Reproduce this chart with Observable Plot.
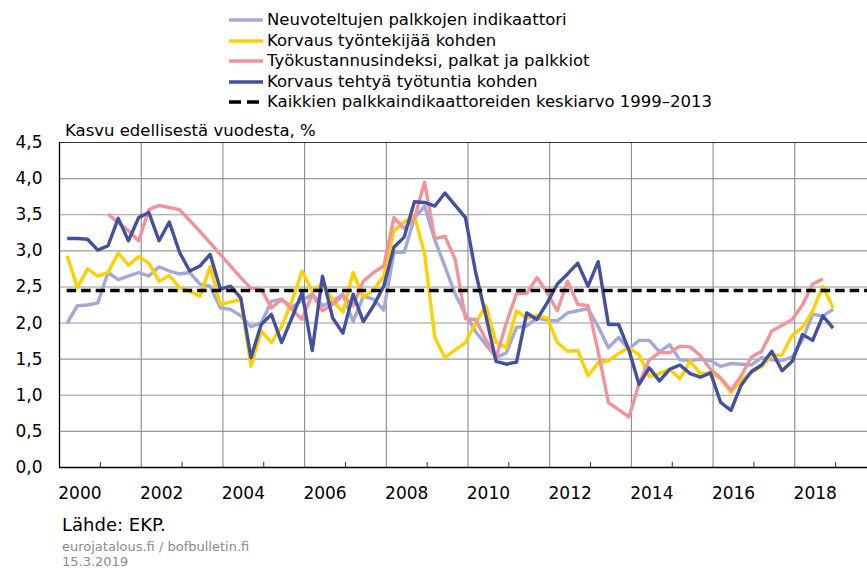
<!DOCTYPE html>
<html>
<head>
<meta charset="utf-8">
<script src="https://cdn.jsdelivr.net/npm/d3@7"></script>
<script src="https://cdn.jsdelivr.net/npm/@observablehq/plot@0.6"></script>
<style>
  html, body { margin: 0; padding: 0; background: #fff; overflow: hidden; }
  body { position: relative; width: 867px; height: 568px; font-family: "DejaVu Sans", sans-serif; color: #000; }
  .abs { position: absolute; white-space: nowrap; }
  #legend .row { position: absolute; left: 229px; width: 520px; height: 20px; line-height: 20px; font-size: 16.5px; white-space: nowrap; }
  #legend svg { position: absolute; left: 0; top: 7px; }
  #legend span { position: absolute; left: 38px; top: 0; white-space: nowrap; }
  #chart { position: absolute; left: 0; top: 112px; }
</style>
</head>
<body>
<div id="legend"></div>
<div id="chart"></div>
<div class="abs" id="ylabel" style="left:65px; top:121px; font-size:16.5px; line-height:20px; z-index:2;"></div>
<div class="abs" id="source" style="left:62px; top:515px; font-size:18px; line-height:20px;"></div>
<div class="abs" id="site" style="left:62px; top:539px; font-size:13px; line-height:15px; color:#8a8a8a;"></div>
<div class="abs" id="date" style="left:62px; top:554px; font-size:13px; line-height:15px; color:#8a8a8a;"></div>
<script>
// ---- Data (quarterly, 2000Q1 ... 2018Q4), % growth on previous year ----
const startYear = 2000;

const negotiatedWages = [
  2.00, 2.24, 2.25, 2.28, 2.70, 2.60, 2.65, 2.70, 2.65, 2.78,
  2.72, 2.68, 2.70, 2.54, 2.51, 2.21, 2.19, 2.10, 1.95, 2.00,
  2.30, 2.33, 2.22, 2.31, 2.40, 2.24, 2.30, 2.40, 2.02, 2.37,
  2.33, 2.18, 2.98, 2.98, 3.45, 3.62, 3.15, 2.78, 2.40, 2.12,
  1.88, 1.70, 1.52, 1.59, 1.94, 1.96, 2.07, 2.04, 2.03, 2.14,
  2.17, 2.20, 1.95, 1.66, 1.80, 1.64, 1.76, 1.76, 1.60, 1.70,
  1.49, 1.48, 1.50, 1.48, 1.40, 1.44, 1.43, 1.42, 1.52, 1.49,
  1.48, 1.53, 1.77, 2.12, 2.10, 2.19
];

const compPerEmployee = [
  2.93, 2.49, 2.75, 2.65, 2.70, 2.97, 2.80, 2.92, 2.83, 2.58,
  2.66, 2.49, 2.44, 2.37, 2.78, 2.26, 2.29, 2.33, 1.40, 1.89,
  1.73, 1.95, 2.30, 2.72, 2.44, 2.55, 2.32, 2.15, 2.70, 2.36,
  2.46, 2.65, 3.28, 3.40, 3.49, 2.96, 1.80, 1.52, 1.63, 1.73,
  2.00, 2.24, 1.73, 1.66, 2.17, 2.07, 2.10, 2.07, 1.73, 1.61,
  1.62, 1.27, 1.45, 1.48, 1.58, 1.66, 1.56, 1.26, 1.30, 1.36,
  1.23, 1.47, 1.30, 1.31, 1.23, 1.04, 1.21, 1.31, 1.40, 1.55,
  1.56, 1.83, 1.94, 2.17, 2.51, 2.21
];

const laborCostIndex = [
  null, null, null, null, 3.51, 3.39, 3.28, 3.14, 3.57, 3.63,
  3.60, 3.57, 3.42, 3.27, 3.11, 2.95, 2.79, 2.63, 2.48, 2.47,
  2.21, 2.33, 2.19, 2.05, 2.40, 2.17, 2.26, 2.38, 2.24, 2.58,
  2.70, 2.79, 3.46, 3.31, 3.45, 3.95, 3.17, 3.20, 2.88, 2.06,
  2.05, 1.77, 1.52, 2.00, 2.41, 2.41, 2.63, 2.42, 2.17, 2.58,
  2.26, 2.24, 1.60, 0.90, 0.80, 0.70, 1.16, 1.49, 1.59, 1.59,
  1.68, 1.67, 1.55, 1.36, 1.24, 1.07, 1.27, 1.53, 1.61, 1.89,
  1.97, 2.05, 2.25, 2.54, 2.61, null
];

const compPerHour = [
  3.17, 3.17, 3.16, 3.01, 3.07, 3.45, 3.14, 3.46, 3.53, 3.14,
  3.40, 2.98, 2.72, 2.79, 2.95, 2.47, 2.51, 2.35, 1.52, 1.98,
  2.12, 1.73, 2.07, 2.42, 1.62, 2.65, 2.07, 1.86, 2.40, 2.02,
  2.24, 2.51, 3.05, 3.19, 3.68, 3.67, 3.62, 3.80, 3.63, 3.46,
  2.70, 2.10, 1.47, 1.43, 1.46, 2.14, 2.05, 2.28, 2.54, 2.68,
  2.83, 2.51, 2.85, 1.98, 1.98, 1.63, 1.15, 1.38, 1.20, 1.36,
  1.42, 1.30, 1.25, 1.31, 0.90, 0.79, 1.14, 1.33, 1.42, 1.61,
  1.34, 1.47, 1.84, 1.76, 2.10, 1.93
];

const averageAll = 2.45; // 1999–2013 average of all wage indicators

const seriesNames = [
  "Neuvoteltujen palkkojen indikaattori",
  "Korvaus työntekijää kohden",
  "Työkustannusindeksi, palkat ja palkkiot",
  "Korvaus tehtyä työtuntia kohden"
];
const seriesColors = ["#a3a8d9", "#ffd000", "#f2939b", "#4150a0"];
const seriesValues = [negotiatedWages, compPerEmployee, laborCostIndex, compPerHour];
const averageName = "Kaikkien palkkaindikaattoreiden keskiarvo 1999–2013";

const yTicks = [0, 0.5, 1, 1.5, 2, 2.5, 3, 3.5, 4, 4.5];
const labelYears = [2000, 2002, 2004, 2006, 2008, 2010, 2012, 2014, 2016, 2018];
const gridYears = [2002, 2004, 2006, 2008, 2010, 2012, 2014, 2016, 2018, 2020];
const minorYears = [2001, 2003, 2005, 2007, 2009, 2011, 2013, 2015, 2017, 2019];

const yTitle = "Kasvu edellisestä vuodesta, %";
const sourceText = "Lähde: EKP.";
const siteText = "eurojatalous.fi / bofbulletin.fi";
const dateText = "15.3.2019";

// quarter index -> time position (quarter plotted near its end month)
const qTime = i => startYear + 0.1875 + 0.25 * i;

const rows = [];
seriesValues.forEach((vals, s) => {
  vals.forEach((v, i) => rows.push({series: seriesNames[s], t: qTime(i), v}));
});

const lineMarks = seriesNames.map((name, s) =>
  Plot.line(rows.filter(d => d.series === name), {
    x: "t", y: "v", stroke: seriesColors[s], strokeWidth: 3.4,
    strokeLinejoin: "round", strokeLinecap: "butt",
    defined: d => d.v != null
  })
);

const chart = Plot.plot({
  width: 867,
  height: 400,
  marginTop: 30,
  marginBottom: 45,
  marginLeft: 59,
  marginRight: 0,
  x: {domain: [2000, 2020], range: [59, 876]},
  y: {domain: [0, 4.5]},
  style: {fontFamily: "DejaVu Sans, sans-serif", fontSize: "17px", color: "#000", background: "transparent"},
  marks: [
    Plot.ruleY(yTicks, {stroke: "#9a9a9a", strokeWidth: 1.1}),
    Plot.ruleX(gridYears, {stroke: "#8a8a8a", strokeWidth: 1.1}),
    Plot.ruleX(minorYears, {x: d => d, y1: 0, y2: 0.07, stroke: "#333", strokeWidth: 1}),
    Plot.ruleY([4.5], {stroke: "#333", strokeWidth: 1.2}),
    Plot.ruleX([2000], {stroke: "#000", strokeWidth: 1.3}),
    Plot.ruleY([0], {stroke: "#000", strokeWidth: 1.3}),
    Plot.axisY({ticks: yTicks, tickSize: 0, tickPadding: 17, label: null,
      tickFormat: d => d.toFixed(1).replace(".", ","), fontSize: 17}),
    Plot.axisX({ticks: labelYears.map(y => y + 0.5), tickSize: 0, tickPadding: 19, label: null,
      tickFormat: d => String(d - 0.5), fontSize: 17}),
    ...lineMarks,
    Plot.ruleY([averageAll], {x1: qTime(0), x2: 2020, stroke: "#000", strokeWidth: 3.6, strokeDasharray: "9.5,5"})
  ]
});
document.getElementById("chart").appendChild(chart);

// ---- Legend ----
const legend = document.getElementById("legend");
const legendItems = seriesNames.map((n, s) => ({name: n, color: seriesColors[s], dash: null}))
  .concat([{name: averageName, color: "#000", dash: "12,6"}]);
legendItems.forEach((it, k) => {
  const row = document.createElement("div");
  row.className = "row";
  row.style.top = (10 + 20.5 * k) + "px";
  row.innerHTML = `<svg width="34" height="6"><line x1="0" x2="34" y1="3" y2="3" stroke="${it.color}" stroke-width="3.6" ${it.dash ? `stroke-dasharray="${it.dash}"` : ""}/></svg><span></span>`;
  row.querySelector("span").textContent = it.name;
  legend.appendChild(row);
});

document.getElementById("ylabel").textContent = yTitle;
document.getElementById("source").textContent = sourceText;
document.getElementById("site").textContent = siteText;
document.getElementById("date").textContent = dateText;
</script>
</body>
</html>
